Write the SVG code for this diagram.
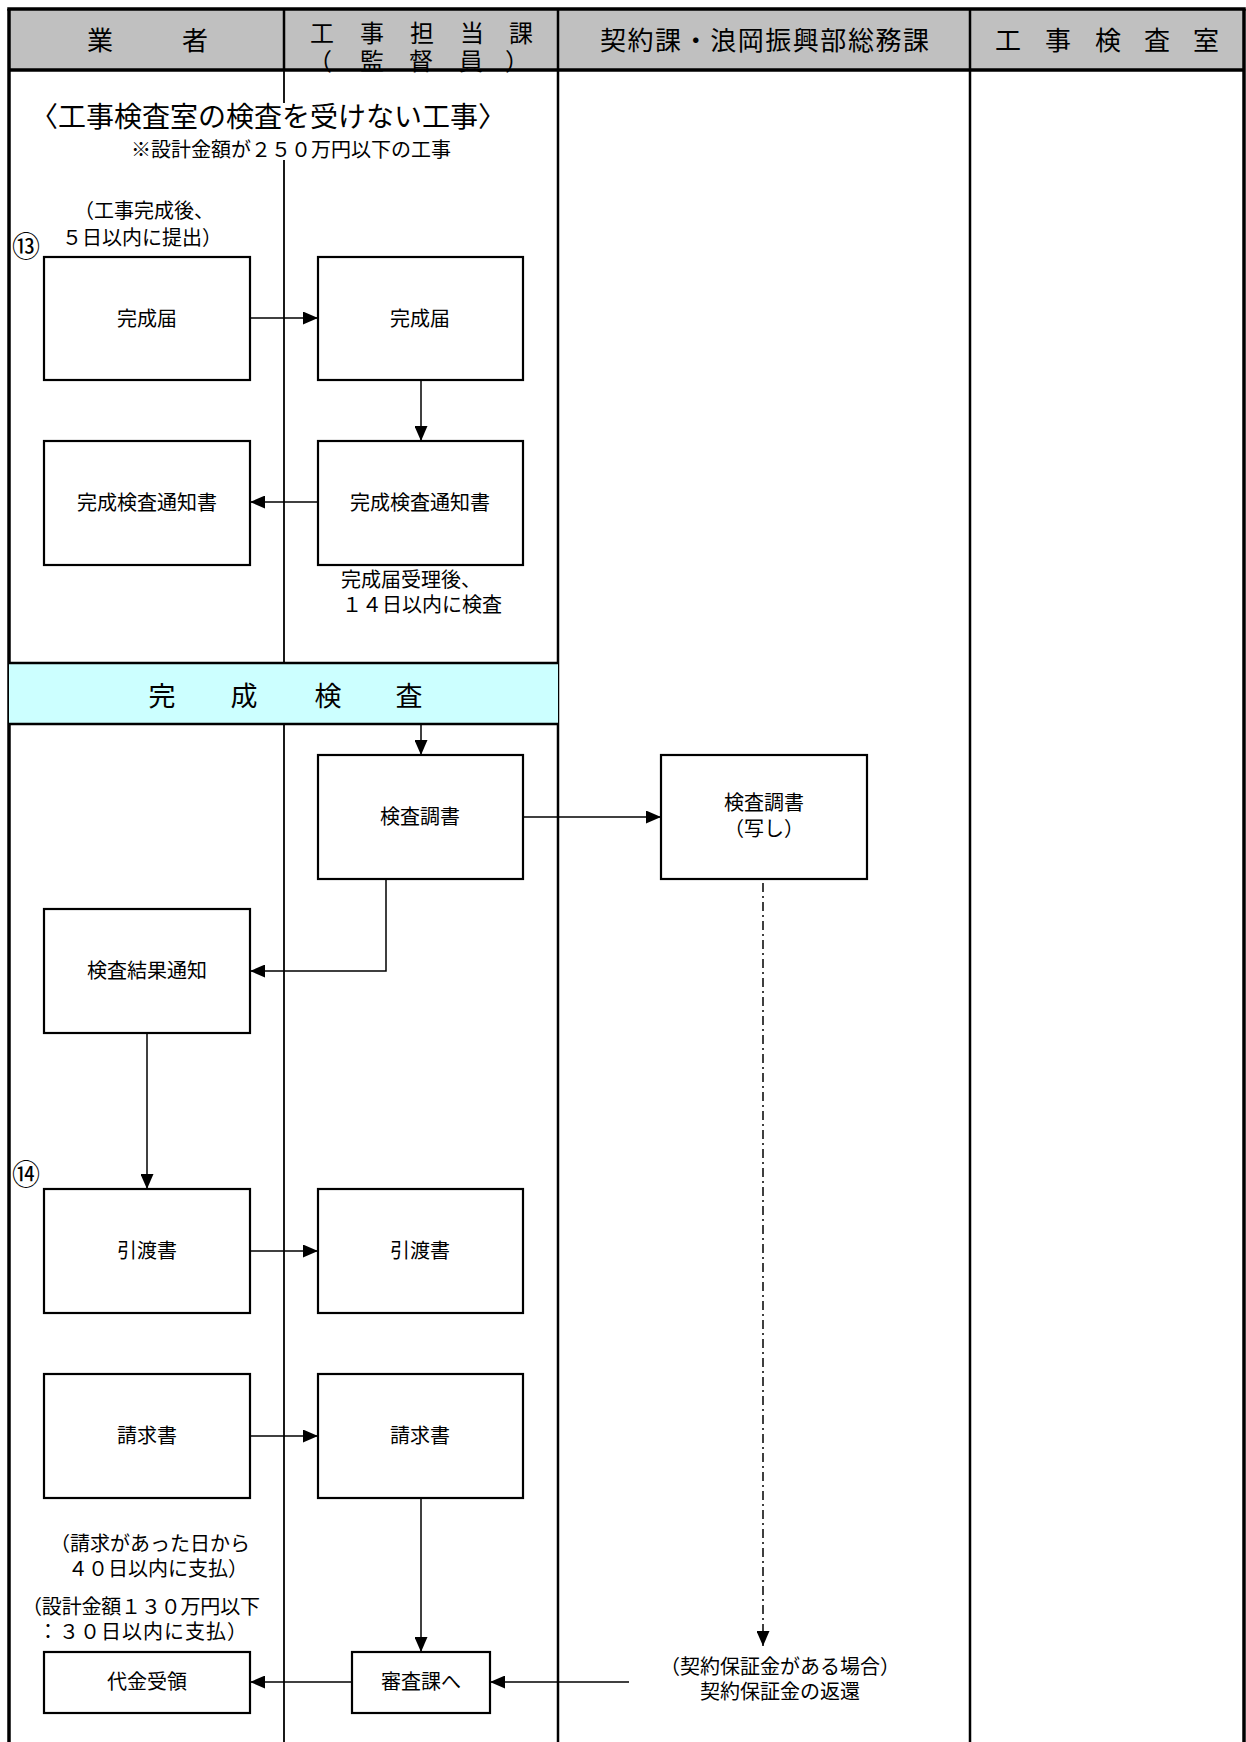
<svg xmlns="http://www.w3.org/2000/svg" width="1246" height="1742" viewBox="0 0 1246 1742">
<defs>
<marker id="ah" viewBox="0 0 15 13" refX="15" refY="6.5" markerWidth="15" markerHeight="13" markerUnits="userSpaceOnUse" orient="auto">
<path d="M0,0 L15,6.5 L0,13 z" fill="#000"/>
</marker>
<style>
text{font-family:"Noto Sans CJK JP","Noto Sans CJK SC",sans-serif;fill:#000}
.hd{font-size:26px}
.hd2{font-size:24px}
.lb{font-size:20px;text-anchor:middle}
.nt{font-size:20px;text-anchor:middle}
.ns{font-size:20px}
.num{font-size:28px;text-anchor:middle}
.box{fill:#fff;stroke:#000;stroke-width:2.2}
.ln{fill:none;stroke:#000;stroke-width:1.5}
.frame{stroke:#000;stroke-width:3.5;fill:none}
.lane{stroke:#000;fill:none}
</style>
</defs>

<g id="lanes">
<rect x="9" y="9" width="1235" height="61" fill="#c0c0c0"/>
<line class="lane" x1="284" y1="9" x2="284" y2="70" stroke-width="2.5"/>
<line class="lane" x1="558" y1="9" x2="558" y2="70" stroke-width="2.5"/>
<line class="lane" x1="970" y1="9" x2="970" y2="70" stroke-width="2.5"/>
<line class="lane" x1="284" y1="70" x2="284" y2="1742" stroke-width="1.8"/>
<line class="lane" x1="558" y1="70" x2="558" y2="1742" stroke-width="2.5"/>
<line class="lane" x1="970" y1="70" x2="970" y2="1742" stroke-width="2.5"/>
<line class="frame" x1="9" y1="9" x2="9" y2="1742"/>
<line class="frame" x1="1244" y1="9" x2="1244" y2="1742"/>
<line class="frame" x1="7.25" y1="9" x2="1245.75" y2="9"/>
<line class="frame" x1="9" y1="70" x2="1244" y2="70"/>
<text class="hd" x="100 195" y="50" text-anchor="middle">業者</text>
<text class="hd2" x="322 372 422 472 521" y="42" text-anchor="middle">工事担当課</text>
<text class="hd2" x="320 372 421 471 517" y="70" text-anchor="middle">（監督員）</text>
<text class="hd" x="600" y="50" textLength="329" lengthAdjust="spacing">契約課・浪岡振興部総務課</text>
<text class="hd" x="1008 1058 1108 1157 1206" y="50" text-anchor="middle">工事検査室</text>
</g>

<g id="title">
<rect x="40" y="103" width="470" height="57" fill="#fff"/>
<text x="268" y="127" font-size="28" text-anchor="middle">〈工事検査室の検査を受けない工事〉</text>
<text class="nt" x="291" y="157">※設計金額が２５０万円以下の工事</text>
</g>

<g id="band">
<rect x="9" y="663" width="549" height="61" fill="#ccffff"/>
<line class="lane" x1="9" y1="663" x2="558" y2="663" stroke-width="2.5"/>
<line class="lane" x1="9" y1="724" x2="558" y2="724" stroke-width="2.5"/>
<text x="162 244 328 409" y="706" font-size="27" text-anchor="middle">完成検査</text>
</g>

<g id="notes">
<text class="nt" x="144" y="218">（工事完成後、</text>
<text class="nt" x="142" y="245">５日以内に提出）</text>
<text class="num" x="26" y="257">⑬</text>
<text class="nt" x="411" y="587">完成届受理後、</text>
<text class="nt" x="422" y="612">１４日以内に検査</text>
<text class="num" x="26" y="1185">⑭</text>
<text class="nt" x="150" y="1551">（請求があった日から</text>
<text class="nt" x="158" y="1576">４０日以内に支払）</text>
<text class="ns" x="22" y="1614" textLength="238" lengthAdjust="spacing">（設計金額１３０万円以下</text>
<text class="ns" x="38" y="1639" textLength="209" lengthAdjust="spacing">：３０日以内に支払）</text>
<text class="nt" x="780" y="1674">（契約保証金がある場合）</text>
<text class="nt" x="780" y="1699">契約保証金の返還</text>
</g>

<g id="connectors">
<line class="ln" x1="250" y1="318" x2="318" y2="318" marker-end="url(#ah)"/>
<line class="ln" x1="421" y1="380" x2="421" y2="441" marker-end="url(#ah)"/>
<line class="ln" x1="318" y1="502" x2="250" y2="502" marker-end="url(#ah)"/>
<line class="ln" x1="421" y1="724" x2="421" y2="755" marker-end="url(#ah)"/>
<line class="ln" x1="523" y1="817" x2="661" y2="817" marker-end="url(#ah)"/>
<polyline class="ln" points="386,879 386,971 250,971" marker-end="url(#ah)"/>
<line class="ln" x1="147" y1="1033" x2="147" y2="1189" marker-end="url(#ah)"/>
<line class="ln" x1="250" y1="1251" x2="318" y2="1251" marker-end="url(#ah)"/>
<line class="ln" x1="250" y1="1436" x2="318" y2="1436" marker-end="url(#ah)"/>
<line class="ln" x1="421" y1="1498" x2="421" y2="1652" marker-end="url(#ah)"/>
<line class="ln" x1="352" y1="1682" x2="250" y2="1682" marker-end="url(#ah)"/>
<line class="ln" x1="629" y1="1682" x2="490" y2="1682" marker-end="url(#ah)"/>
<line class="ln" x1="763" y1="883" x2="763" y2="1646" stroke-dasharray="9 4 2 4" marker-end="url(#ah)"/>
</g>

<g id="n-a1"><rect class="box" x="44" y="257" width="206" height="123"/><text class="lb" x="147" y="326">完成届</text></g>
<g id="n-b1"><rect class="box" x="318" y="257" width="205" height="123"/><text class="lb" x="420" y="326">完成届</text></g>
<g id="n-a2"><rect class="box" x="44" y="441" width="206" height="124"/><text class="lb" x="147" y="510">完成検査通知書</text></g>
<g id="n-b2"><rect class="box" x="318" y="441" width="205" height="124"/><text class="lb" x="420" y="510">完成検査通知書</text></g>
<g id="n-b3"><rect class="box" x="318" y="755" width="205" height="124"/><text class="lb" x="420" y="824">検査調書</text></g>
<g id="n-c1"><rect class="box" x="661" y="755" width="206" height="124"/><text class="lb" x="764" y="810">検査調書</text><text class="lb" x="764" y="836">（写し）</text></g>
<g id="n-a3"><rect class="box" x="44" y="909" width="206" height="124"/><text class="lb" x="147" y="978">検査結果通知</text></g>
<g id="n-a4"><rect class="box" x="44" y="1189" width="206" height="124"/><text class="lb" x="147" y="1258">引渡書</text></g>
<g id="n-b4"><rect class="box" x="318" y="1189" width="205" height="124"/><text class="lb" x="420" y="1258">引渡書</text></g>
<g id="n-a5"><rect class="box" x="44" y="1374" width="206" height="124"/><text class="lb" x="147" y="1443">請求書</text></g>
<g id="n-b5"><rect class="box" x="318" y="1374" width="205" height="124"/><text class="lb" x="420" y="1443">請求書</text></g>
<g id="n-a6"><rect class="box" x="44" y="1652" width="206" height="61"/><text class="lb" x="147" y="1689">代金受領</text></g>
<g id="n-b6"><rect class="box" x="352" y="1652" width="138" height="61"/><text class="lb" x="421" y="1689">審査課へ</text></g>
</svg>
